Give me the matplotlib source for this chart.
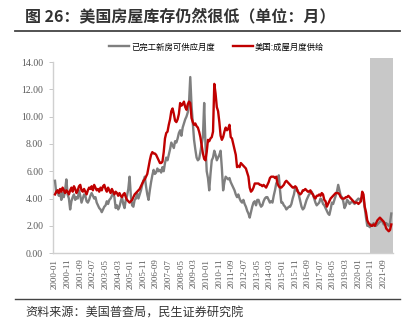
import pandas as pd
import matplotlib
matplotlib.use('Agg')
import matplotlib.pyplot as plt
from matplotlib.lines import Line2D

# 数据：月度，2000-01 ~ 2022-03
months = pd.period_range('2000-01', '2022-03', freq='M').strftime('%Y-%m').tolist()

# 已完工新房可供应月度（灰）
new_supply = [
    5.3, 4.4, 4.6, 4.2, 4.5, 3.9, 4.4, 4.1, 4.6, 5.4, 4.3, 4.0,   # 2000
    3.2, 3.8, 4.1, 4.3, 3.9, 4.1, 4.0, 4.6, 4.2, 3.7, 4.0, 4.3,   # 2001
    4.2, 3.8, 3.7, 3.9, 4.2, 4.4, 4.2, 4.0, 4.1, 3.7, 3.5, 3.3,   # 2002
    3.2, 3.0, 3.2, 3.4, 3.5, 3.8, 3.6, 3.9, 4.0, 4.2, 4.4, 4.1,   # 2003
    3.3, 3.5, 3.2, 3.4, 3.8, 4.1, 3.6, 3.3, 3.9, 4.2, 4.7, 5.6,   # 2004
    4.2, 3.5, 3.4, 3.9, 4.0, 4.4, 4.0, 4.3, 4.6, 5.0, 5.3, 5.6,   # 2005
    4.9, 4.3, 3.9, 4.6, 5.2, 5.7, 6.1, 5.8, 5.9, 6.2, 6.0, 6.1,   # 2006
    5.9, 6.3, 6.0, 6.6, 7.0, 6.8, 7.2, 7.6, 8.1, 7.9, 7.7, 8.2,   # 2007
    8.1, 8.4, 8.8, 9.0, 8.6, 9.2, 9.5, 9.8, 10.0, 10.3, 11.0, 12.9,  # 2008
    10.8, 9.6, 8.3, 7.6, 7.0, 6.8, 6.9, 7.4, 8.0, 8.5, 11.0, 8.0,  # 2009
    6.0, 5.5, 4.6, 5.8, 6.8, 7.0, 7.5, 7.2, 6.8, 7.0, 7.2, 7.5,   # 2010
    6.2, 4.6, 5.2, 5.6, 5.5, 5.4, 5.5, 5.2, 5.0, 4.8, 4.6, 4.3,   # 2011
    4.1, 4.3, 4.0, 3.8, 3.7, 3.9, 3.6, 3.4, 3.1, 2.9, 2.6, 3.0,   # 2012
    3.4, 3.7, 3.8, 3.5, 3.9, 3.9, 3.6, 3.4, 3.5, 3.8, 4.0, 4.1,   # 2013
    4.1, 3.9, 3.7, 3.8, 3.7, 4.2, 4.6, 5.1, 5.3, 5.7, 4.6, 3.7,   # 2014
    3.7, 3.5, 3.4, 3.2, 3.3, 3.4, 3.4, 3.6, 4.0, 4.3, 4.8, 4.6,   # 2015
    4.6, 4.2, 3.8, 3.4, 3.2, 3.3, 3.6, 3.9, 4.1, 4.3, 4.4, 4.5,   # 2016
    4.3, 4.0, 3.7, 3.5, 3.6, 3.7, 4.0, 3.9, 3.6, 3.5, 3.3, 3.1,   # 2017
    2.9, 2.8, 3.2, 3.7, 3.6, 3.9, 4.2, 4.5, 5.0, 4.6, 4.2, 4.1,   # 2018
    3.8, 3.3, 3.5, 3.9, 3.8, 3.6, 3.7, 3.8, 3.7, 3.6, 3.8, 3.9,   # 2019
    4.0, 3.9, 4.0, 4.1, 4.0, 3.3, 2.6, 2.0, 2.0, 1.9, 2.1, 2.0,   # 2020
    2.2, 2.0, 2.0, 2.1, 2.2, 2.3, 2.4, 2.3, 2.1, 2.2, 2.2, 2.1,   # 2021
    2.0, 2.2, 2.9,                                                # 2022
]

# 美国:成屋月度供给（红）
existing_supply = [
    4.3, 4.5, 4.6, 4.4, 4.7, 4.5, 4.8, 4.6, 4.4, 4.6, 4.5, 4.3,   # 2000
    4.6, 4.8, 4.5, 4.9, 4.7, 4.4, 4.6, 4.9, 5.0, 4.6, 4.5, 4.7,   # 2001
    4.5, 4.3, 4.6, 4.8, 4.7, 4.9, 4.6, 5.0, 4.8, 4.6, 4.7, 4.5,   # 2002
    4.8, 4.6, 4.9, 5.0, 4.7, 4.5, 4.8, 4.6, 4.4, 4.7, 4.5, 4.3,   # 2003
    4.5, 4.4, 4.2, 4.4, 4.2, 4.1, 4.3, 4.4, 4.1, 3.9, 3.8, 3.7,   # 2004
    3.8, 3.9, 4.1, 4.3, 4.4, 4.5, 4.6, 4.7, 4.9, 5.1, 5.3, 5.4,   # 2005
    5.6, 5.8, 6.3, 6.8, 7.2, 7.4, 7.3, 7.3, 7.2, 7.0, 6.8, 6.6,   # 2006
    6.6, 6.7, 7.4, 8.4, 8.8, 8.9, 9.4, 9.8, 10.4, 10.6, 10.2, 9.7,  # 2007
    9.6, 9.8, 10.2, 11.0, 10.8, 10.9, 11.1, 10.7, 10.5, 10.9, 11.1, 11.0,  # 2008
    9.9, 9.6, 9.4, 9.5, 9.3, 9.2, 8.9, 8.5, 7.9, 7.3, 6.9, 6.8,   # 2009
    7.4, 8.3, 8.2, 8.4, 8.5, 8.9, 12.4, 11.7, 10.7, 10.4, 9.6, 8.6,  # 2010
    8.3, 8.5, 8.9, 9.2, 9.0, 9.1, 9.4, 8.5, 8.4, 8.0, 7.6, 7.2,   # 2011
    6.3, 6.4, 6.3, 6.6, 6.5, 6.4, 6.3, 6.2, 5.9, 5.6, 4.8, 4.5,   # 2012
    4.6, 4.8, 5.1, 5.1, 5.1, 5.1, 5.0, 5.0, 4.9, 5.0, 4.9, 4.8,   # 2013
    5.0, 5.2, 5.5, 5.6, 5.6, 5.6, 5.5, 5.6, 5.1, 4.9, 4.8, 4.8,   # 2014
    4.9, 5.0, 5.2, 5.3, 5.2, 5.1, 5.0, 4.9, 4.8, 4.8, 4.9, 4.8,   # 2015
    4.5, 4.4, 4.3, 4.4, 4.6, 4.6, 4.7, 4.6, 4.5, 4.5, 4.6, 4.4,   # 2016
    4.3, 4.1, 4.0, 4.2, 4.2, 4.3, 4.2, 4.4, 4.3, 3.9, 3.8, 3.4,   # 2017
    3.6, 3.8, 4.0, 4.1, 4.2, 4.3, 4.4, 4.4, 4.4, 4.3, 4.1, 4.0,   # 2018
    4.0, 4.0, 4.1, 4.1, 4.2, 4.1, 4.0, 3.9, 3.8, 3.7, 3.7, 3.7,   # 2019
    3.6, 3.7, 3.8, 4.5, 4.3, 3.4, 3.0, 2.4, 2.2, 2.1, 2.0, 2.0,   # 2020
    2.1, 2.0, 2.2, 2.4, 2.5, 2.6, 2.5, 2.4, 2.3, 2.1, 1.8, 1.7,   # 2021
    1.6, 1.7, 2.1,                                                # 2022
]

labels = ['已完工新房可供应月度', '美国:成屋月度供给']
title = '图 26：美国房屋库存仍然很低（单位：月）'
source = '资料来源：美国普查局，民生证券研究院'
shade_from = '2020-11'

cjk = ['Noto Sans CJK SC', 'DejaVu Sans']
serif = 'Liberation Serif'
tick_color = '#595959'

fig = plt.figure(figsize=(4.17, 3.30), dpi=100)
ax = fig.add_axes([0.127, 0.233, 0.815, 0.579])

x = list(range(len(months)))
ax.plot(x, new_supply, color='#7f7f7f', lw=1.7, label=labels[0], zorder=3)
ax.plot(x, existing_supply, color='#c00000', lw=1.7, label=labels[1], zorder=4)

# 阴影区
s = months.index(shade_from) - 0.5
ax.axvspan(s, len(months), ymax=1.02, color='#c8c8c8', lw=0, zorder=1,
           clip_on=False)

ax.set_xlim(-1.6, len(months) + 0.2)
ax.set_ylim(0, 14)
ax.set_yticks(range(0, 15, 2))
ax.set_yticklabels([f'{v:.2f}' for v in range(0, 15, 2)], family=serif,
                   fontsize=7, color=tick_color)
ax.set_xticks(x[::10])
ax.set_xticklabels(months[::10], rotation=90, family=serif, fontsize=6.5,
                   color=tick_color)
ax.tick_params(axis='x', length=0, pad=4)
ax.tick_params(axis='y', length=3, width=0.6, color='#bfbfbf', pad=4)

for sp in ['top', 'right']:
    ax.spines[sp].set_visible(False)
for sp in ['left', 'bottom']:
    ax.spines[sp].set_color('#d0d0d0')
    ax.spines[sp].set_linewidth(1.0)

fig.legend(loc='center', bbox_to_anchor=(0.52, 0.858), ncol=2, frameon=False,
           prop={'family': cjk, 'size': 6}, handlelength=2.4,
           columnspacing=2.2, handletextpad=0.2)

# 标题与来源
fig.text(0.06, 0.948, title, family=cjk, fontsize=11.5, fontweight='bold',
         color='#333333', va='center', ha='left')
fig.add_artist(Line2D([0.036, 0.96], [0.905, 0.905], color='#444444', lw=1.3))
fig.add_artist(Line2D([0.036, 0.96], [0.093, 0.093], color='#444444', lw=1.0))
fig.text(0.06, 0.05, source, family=cjk, fontsize=8.7, color='#333333',
         va='center', ha='left')

plt.savefig('out.png', dpi=100)
